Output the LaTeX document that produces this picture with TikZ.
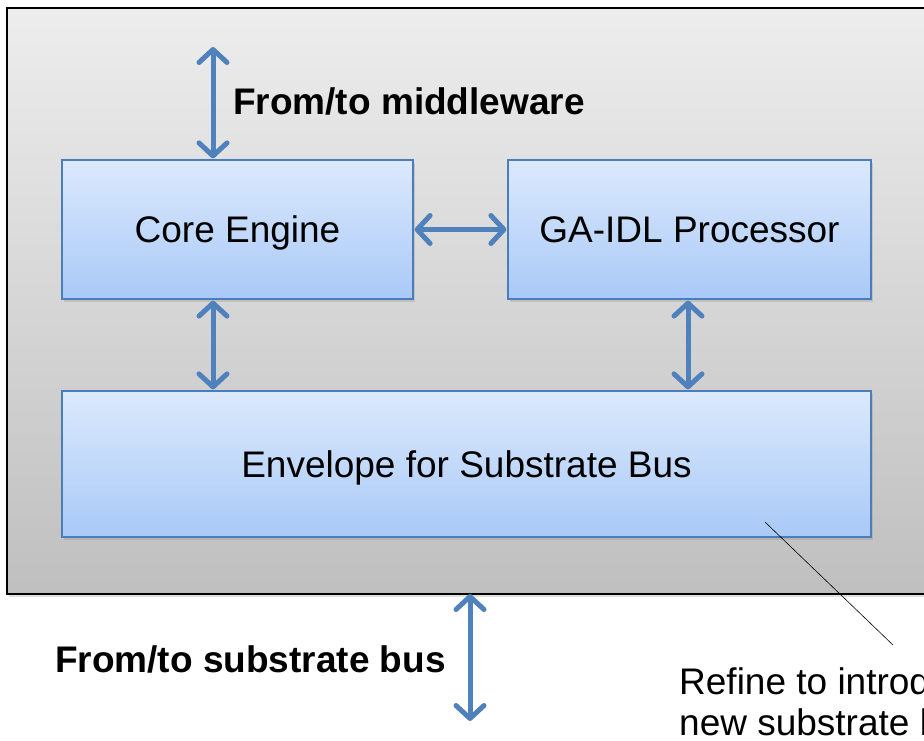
\documentclass[tikz,border=0pt]{standalone}
\usepackage{fontspec}
\setmainfont{Liberation Sans}
\usetikzlibrary{arrows.meta,shadows}
\definecolor{arrowblue}{HTML}{4F81BD}
\definecolor{boxtop}{HTML}{DCE9FC}
\definecolor{boxbot}{HTML}{A9C9F7}
\definecolor{boxline}{HTML}{4A7EBB}
\begin{document}
\begin{tikzpicture}[x=1pt,y=-1pt,
  blockbox/.style={draw=boxline, line width=1.2pt, top color=boxtop, bottom color=boxbot,
    font=\fontsize{37}{44}\selectfont, inner sep=0pt, text height=26pt, text depth=0pt,
    drop shadow={shadow xshift=2pt, shadow yshift=-3pt, opacity=0.25}},
  biarrow/.style={draw=arrowblue, line width=5pt, {Straight Barb[length=13pt,width=28pt,round]}-{Straight Barb[length=13pt,width=28pt,round]}, shorten <=1pt, shorten >=1pt},
  boldlabel/.style={font=\fontsize{37}{44}\selectfont\bfseries, inner sep=0pt},
  plainlabel/.style={font=\fontsize{37}{41}\selectfont, inner sep=0pt, align=left}
]
\useasboundingbox (0,0) rectangle (924,740);
\clip (0,0) rectangle (924,740);
\fill[white] (0,0) rectangle (924,740);
% outer container
\node[draw=black, line width=1.5pt, top color=black!7, bottom color=black!25,
  minimum width=940pt, minimum height=586pt, inner sep=0pt, anchor=north west,
  drop shadow={shadow xshift=2pt, shadow yshift=-3pt, opacity=0.25}] (outer) at (6,7) {};
% blocks
\node[blockbox, minimum width=351pt, minimum height=139pt] (core) at (237.5,229.5) {Core Engine};
\node[blockbox, minimum width=363pt, minimum height=139pt] (ga) at (689.5,229.5) {GA-IDL Processor};
\node[blockbox, minimum width=809pt, minimum height=146pt] (env) at (466.5,464) {Envelope for Substrate Bus};
% free ends
\coordinate (topend) at (213,46);
\coordinate (botstart) at (470,593);
\coordinate (botend) at (470,722);
\coordinate (leadA) at (765,522);
\coordinate (leadB) at (893,645);
% arrows
\draw[biarrow] (topend) -- (core.north -| topend);
\draw[biarrow] (core.east) -- (ga.west);
\draw[biarrow] (core.south -| topend) -- (env.north -| topend);
\draw[biarrow] (ga.south -| 688,0) -- (env.north -| 688,0);
\draw[biarrow] (botstart) -- (botend);
% labels
\node[boldlabel, anchor=west] (mw) at (233,101) {From/to middleware};
\node[boldlabel, anchor=east] (sb) at (446,659) {From/to substrate bus};
\node[plainlabel, anchor=north west] (note) at (679,667) {Refine to introduce a\\new substrate bus};
\draw[black, line width=0.6pt] (leadA) -- (leadB);
\end{tikzpicture}
\end{document}
